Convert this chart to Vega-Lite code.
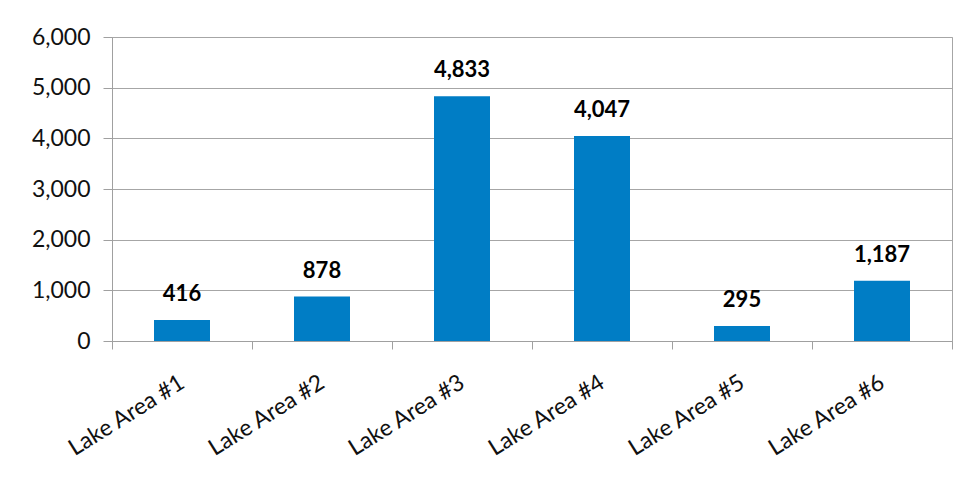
{
  "$schema": "https://vega.github.io/schema/vega-lite/v6.json",
  "width": 840,
  "height": 304,
  "autosize": {"type": "none"},
  "padding": {"left": 112, "top": 37, "right": 14, "bottom": 137},
  "background": "white",
  "config": {
    "view": {"stroke": "#a6a6a6", "strokeWidth": 1},
    "font": "Lato",
    "axis": {
      "labelFont": "Lato",
      "labelColor": "#111111",
      "domainColor": "#a0a0a0",
      "tickColor": "#a0a0a0",
      "gridColor": "#a6a6a6"
    }
  },
  "data": {
    "values": [
      {"area": "Lake Area #1", "value": 416},
      {"area": "Lake Area #2", "value": 878},
      {"area": "Lake Area #3", "value": 4833},
      {"area": "Lake Area #4", "value": 4047},
      {"area": "Lake Area #5", "value": 295},
      {"area": "Lake Area #6", "value": 1187}
    ]
  },
  "encoding": {
    "x": {
      "field": "area",
      "type": "nominal",
      "sort": null,
      "scale": {"paddingInner": 0, "paddingOuter": 0},
      "axis": {
        "title": null,
        "tickBand": "extent",
        "tickSize": 8,
        "labelAngle": -32,
        "labelAlign": "right",
        "labelBaseline": "top",
        "labelFontSize": 23,
        "labelPadding": 22,
        "labelOffset": -6,
        "grid": false
      }
    },
    "y": {
      "field": "value",
      "type": "quantitative",
      "scale": {"domain": [0, 6000], "nice": false},
      "axis": {
        "title": null,
        "values": [0, 1000, 2000, 3000, 4000, 5000, 6000],
        "format": ",.0f",
        "tickSize": 9,
        "labelFontSize": 23,
        "labelPadding": 13,
        "grid": true,
        "gridWidth": 1
      }
    }
  },
  "layer": [
    {
      "mark": {"type": "bar", "color": "#007DC5", "width": {"band": 0.4}}
    },
    {
      "mark": {"type": "text", "fontWeight": "bold", "fontSize": 22, "dy": -19, "baseline": "alphabetic", "color": "#000000"},
      "encoding": {"text": {"field": "value", "type": "quantitative", "format": ",.0f"}}
    }
  ]
}
